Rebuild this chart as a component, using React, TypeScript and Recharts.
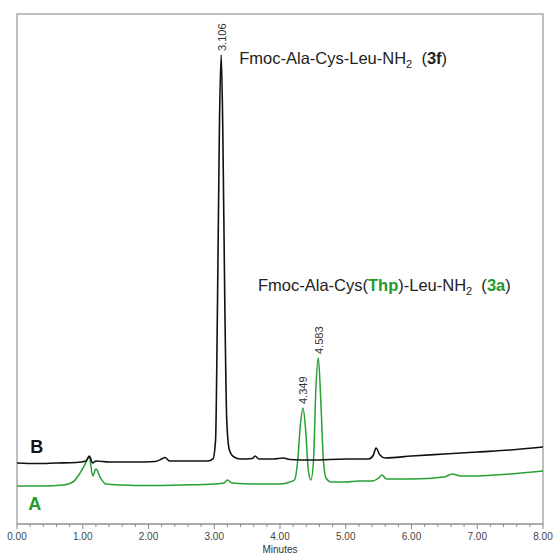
import React from "react";
import { XAxis, YAxis, ReferenceArea, ReferenceDot, Scatter, Line, ComposedChart } from "recharts";

// Trace B (black): time (min), signal
const traceBTime = [0.0, 0.3, 0.6, 0.9, 1.05, 1.1, 1.15, 1.2, 1.4, 1.8, 2.1, 2.2, 2.25, 2.32, 2.6, 2.9, 2.98, 3.02, 3.05, 3.08, 3.106, 3.13, 3.16, 3.19, 3.23, 3.3, 3.4, 3.58, 3.62, 3.68, 3.9, 4.05, 4.15, 4.5, 5.0, 5.35, 5.42, 5.46, 5.52, 5.6, 6.0, 6.5, 7.0, 7.5, 8.0];
const traceBSignal = [61, 60.5, 61, 61.5, 63, 68, 61, 63, 62, 62, 62.5, 65, 66.5, 63, 63, 63, 65, 84, 224, 404, 469, 394, 224, 104, 74, 67, 65, 65.5, 68, 65, 65, 66, 64.5, 64, 65, 65, 69, 76, 69, 66, 68, 70, 72, 74, 77];

// Trace A (green)
const traceATime = [0.0, 0.4, 0.7, 0.85, 0.95, 1.02, 1.1, 1.15, 1.2, 1.27, 1.35, 1.6, 2.0, 2.5, 3.0, 3.15, 3.2, 3.27, 3.6, 4.0, 4.15, 4.22, 4.27, 4.31, 4.349, 4.39, 4.43, 4.47, 4.51, 4.545, 4.583, 4.62, 4.66, 4.7, 4.78, 5.0, 5.2, 5.4, 5.5, 5.55, 5.62, 6.0, 6.5, 6.62, 6.75, 7.0, 7.5, 8.0];
const traceASignal = [38, 38, 39, 42, 50, 58, 67, 48, 55, 46, 40, 39, 38.5, 39, 40, 41, 44, 41, 40, 40, 42, 44, 64, 99, 116, 94, 54, 44, 64, 134, 166, 124, 64, 46, 42, 42, 43, 43, 46, 49, 45, 45, 47, 50, 48, 48, 50, 53];

// Peak retention-time labels
const peakTimes = [3.106, 4.349, 4.583];
const peakHeights = [469, 116, 166];
const peakLabels = ["3.106", "4.349", "4.583"];

// Axis ticks
const majorTicks = [0, 1, 2, 3, 4, 5, 6, 7, 8];
const majorTickLabels = ["0.00", "1.00", "2.00", "3.00", "4.00", "5.00", "6.00", "7.00", "8.00"];
const minorSteps = [0, 0.2, 0.4, 0.6, 0.8];

const dataB = traceBTime.map((t, i) => ({ t, v: traceBSignal[i] }));
const dataA = traceATime.map((t, i) => ({ t, v: traceASignal[i] }));
const peaks = peakTimes.map((t, i) => ({ t, v: peakHeights[i], label: peakLabels[i] }));
const allTicks: number[] = [];
majorTicks.forEach((m) => {
  minorSteps.forEach((s) => {
    const v = Math.round((m + s) * 10) / 10;
    if (v <= 8) allTicks.push(v);
  });
});

const FONT = "'Liberation Sans', Arial, sans-serif";
const GREEN = "#27a035";
const GREEN_TEXT = "#1f9a2b";

const AxisTick = (props: any) => {
  const { x, y, payload } = props;
  const val = payload.value as number;
  const mi = majorTicks.indexOf(val);
  const isMajor = mi >= 0;
  return (
    <g>
      <line x1={x} x2={x} y1={y} y2={y + (isMajor ? 5 : 3)} stroke="#888" strokeWidth={1} />
      {isMajor && (
        <text x={x} y={y + 16} textAnchor="middle" fontSize={10} fill="#444" fontFamily={FONT}>
          {majorTickLabels[mi]}
        </text>
      )}
    </g>
  );
};

const PeakLabel = (props: any) => {
  const { cx, cy, payload } = props;
  const x = cx + 0.5;
  const y = cy - 4;
  return (
    <text
      x={x}
      y={y}
      transform={`rotate(-90 ${x} ${y})`}
      fontSize={11}
      fill="#333"
      fontFamily={FONT}
      dominantBaseline="central"
      textAnchor="start"
    >
      {payload.label}
    </text>
  );
};

const Annot1 = (props: any) => {
  const { cx, cy } = props;
  return (
    <text x={cx} y={cy} fontSize={16.5} fill="#222" fontFamily={FONT} xmlSpace="preserve">
      Fmoc-Ala-Cys-Leu-NH<tspan dy={4} fontSize={11}>2</tspan>
      <tspan dy={-4}>{"  ("}</tspan>
      <tspan fontWeight="bold">3f</tspan>
      <tspan>)</tspan>
    </text>
  );
};

const Annot2 = (props: any) => {
  const { cx, cy } = props;
  return (
    <text x={cx} y={cy} fontSize={16.5} fill="#222" fontFamily={FONT} xmlSpace="preserve">
      Fmoc-Ala-Cys(<tspan fontWeight="bold" fill={GREEN_TEXT}>Thp</tspan>
      <tspan>)-Leu-NH</tspan>
      <tspan dy={4} fontSize={11}>2</tspan>
      <tspan dy={-4}>{"  ("}</tspan>
      <tspan fontWeight="bold" fill={GREEN_TEXT}>3a</tspan>
      <tspan>)</tspan>
    </text>
  );
};

const LabelB = (props: any) => {
  const { cx, cy } = props;
  return (
    <text x={cx} y={cy} fontSize={18} fontWeight="bold" fill="#111" fontFamily={FONT}>B</text>
  );
};
const LabelA = (props: any) => {
  const { cx, cy } = props;
  return (
    <text x={cx} y={cy} fontSize={18} fontWeight="bold" fill={GREEN_TEXT} fontFamily={FONT}>A</text>
  );
};

export default function App() {
  return (
    <div style={{ position: "absolute", left: 0, top: 0, background: "#fff" }}>
      <ComposedChart
        width={553}
        height={554}
        margin={{ top: 14, right: 10, bottom: 0, left: 17 }}
        style={{ fontFamily: FONT }}
      >
        <XAxis
          type="number"
          dataKey="t"
          domain={[0, 8]}
          ticks={allTicks}
          interval={0}
          allowDataOverflow
          height={30}
          tickLine={false}
          tickSize={0}
          tickMargin={0}
          stroke="#999"
          tick={<AxisTick />}
          label={{ value: "Minutes", position: "insideBottom", offset: 1, fontSize: 10, fill: "#333" }}
        />
        <YAxis type="number" dataKey="v" domain={[0, 510]} hide allowDataOverflow />
        <ReferenceArea x1={0} x2={8} y1={0} y2={510} fill="none" stroke="#aaa" strokeWidth={1.5} />
        <Line
          data={dataA}
          dataKey="v"
          type="monotone"
          stroke={GREEN}
          strokeWidth={1.5}
          dot={false}
          isAnimationActive={false}
        />
        <Line
          data={dataB}
          dataKey="v"
          type="monotone"
          stroke="#111"
          strokeWidth={1.6}
          dot={false}
          isAnimationActive={false}
        />
        <Scatter data={peaks} dataKey="v" shape={<PeakLabel />} isAnimationActive={false} />
        <ReferenceDot x={3.38} y={460} r={0} shape={<Annot1 />} />
        <ReferenceDot x={3.665} y={233} r={0} shape={<Annot2 />} />
        <ReferenceDot x={0.2} y={71} r={0} shape={<LabelB />} />
        <ReferenceDot x={0.17} y={14} r={0} shape={<LabelA />} />
      </ComposedChart>
    </div>
  );
}
